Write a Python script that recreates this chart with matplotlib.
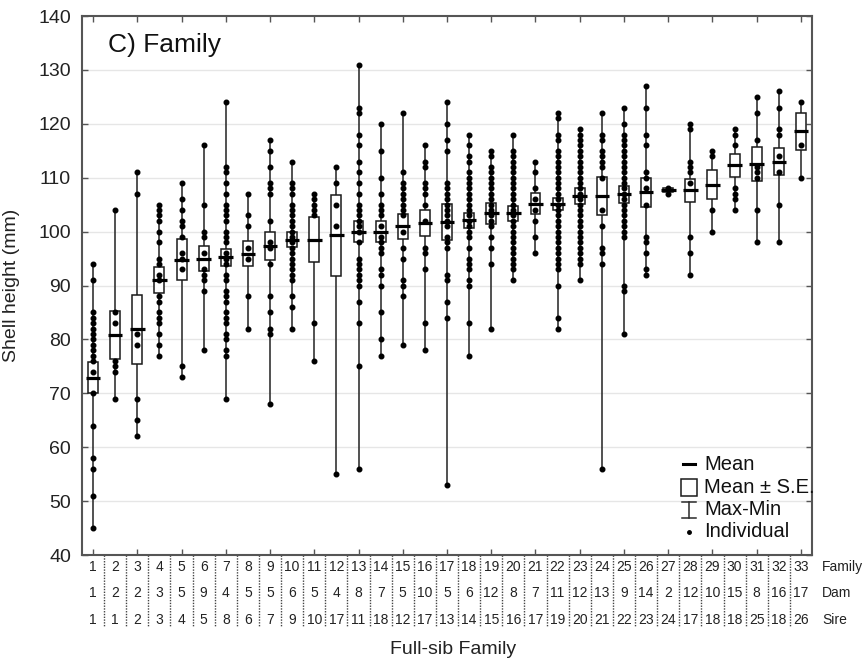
import matplotlib
matplotlib.use("Agg")
import matplotlib.pyplot as plt
import matplotlib.transforms as mtransforms
from matplotlib.patches import Rectangle
from matplotlib.lines import Line2D

plt.rcParams["font.family"] = ["Liberation Sans", "DejaVu Sans"]

# ---- data -------------------------------------------------------------
families = list(range(1, 34))
dams = [1, 2, 2, 3, 5, 9, 4, 5, 5, 6, 5, 4, 8, 7, 5, 10, 5, 6, 12, 8, 7,
        11, 12, 13, 9, 14, 2, 12, 10, 15, 8, 16, 17]
sires = [1, 1, 2, 3, 4, 5, 8, 6, 7, 9, 10, 17, 11, 18, 12, 17, 13, 14, 15,
         16, 17, 19, 20, 21, 22, 23, 24, 17, 18, 18, 25, 18, 26]

means = [72.9, 80.8, 81.9, 91.0, 94.8, 95.0, 95.2, 95.9, 97.3, 98.5, 98.5,
         99.3, 100.0, 100.0, 101.0, 101.6, 101.8, 102.1, 103.4, 103.4, 105.2,
         105.2, 106.6, 106.6, 106.9, 107.3, 107.7, 107.7, 108.7, 112.3, 112.5,
         113.0, 118.6]
std_err = [2.9, 4.4, 6.4, 2.4, 3.8, 2.4, 1.6, 2.3, 2.6, 1.4, 4.2, 7.5, 2.0,
           2.0, 2.3, 2.5, 3.3, 1.4, 1.9, 1.4, 1.9, 1.1, 1.55, 3.6, 1.6, 2.7,
           0.35, 2.15, 2.7, 2.1, 3.2, 2.5, 3.4]

# shell heights (mm) of individuals, one list per full-sib family
shell_heights = [
    [45, 51, 56, 58, 64, 70, 74, 76, 77, 78, 79, 80, 81, 82, 83, 84, 85, 91, 94],
    [69, 74, 75, 76, 83, 85, 104],
    [62, 65, 69, 79, 81, 107, 111],
    [77, 79, 81, 83, 84, 85, 87, 88, 91, 92, 94, 95, 98, 100, 102, 103, 104, 105],
    [73, 75, 93, 95, 96, 99, 101, 102, 104, 106, 109],
    [78, 89, 91, 92, 93, 96, 99, 100, 105, 116],
    [69, 77, 78, 80, 81, 83, 84, 85, 87, 88, 89, 91, 92, 94, 95, 96, 98, 99,
     100, 102, 103, 104, 105, 107, 109, 111, 112, 124],
    [82, 88, 95, 97, 101, 103, 107],
    [68, 81, 82, 85, 88, 94, 97, 98, 102, 107, 108, 109, 112, 115, 117],
    [82, 86, 88, 91, 92, 93, 94, 95, 96, 97, 98, 99, 100, 101, 102, 103, 104,
     105, 107, 108, 109, 113],
    [76, 83, 103, 104, 105, 106, 107],
    [55, 101, 105, 109, 112],
    [56, 75, 83, 87, 90, 91, 92, 93, 94, 95, 98, 100, 101, 102, 103, 104, 105,
     107, 109, 111, 113, 116, 118, 122, 123, 131],
    [77, 80, 85, 90, 92, 93, 96, 97, 98, 99, 101, 103, 104, 105, 107, 110, 115, 120],
    [79, 88, 90, 91, 95, 97, 100, 103, 104, 105, 106, 107, 108, 109, 111, 122],
    [78, 83, 93, 96, 97, 102, 105, 107, 108, 109, 112, 113, 116],
    [53, 84, 87, 91, 92, 97, 98, 99, 101, 102, 103, 104, 105, 106, 107, 108,
     109, 115, 117, 120, 124],
    [77, 83, 90, 91, 93, 94, 95, 97, 99, 100, 101, 102, 103, 104, 105, 106,
     107, 108, 109, 110, 111, 113, 114, 116, 118],
    [82, 94, 97, 99, 101, 102, 103, 104, 105, 106, 107, 108, 109, 110, 111,
     112, 114, 115],
    [91, 93, 94, 95, 96, 97, 98, 99, 100, 101, 102, 103, 104, 105, 106, 107,
     108, 109, 110, 111, 112, 113, 114, 115, 118],
    [96, 99, 102, 104, 106, 108, 111, 113],
    [82, 84, 90, 93, 94, 95, 96, 97, 98, 99, 100, 101, 102, 103, 104, 105,
     106, 107, 108, 109, 110, 111, 112, 113, 114, 115, 117, 118, 121, 122],
    [91, 94, 95, 96, 97, 98, 99, 100, 101, 102, 103, 104, 105, 106, 107, 108,
     109, 110, 111, 112, 113, 114, 115, 116, 117, 118, 119],
    [56, 94, 96, 97, 101, 104, 110, 112, 113, 114, 115, 117, 118, 122],
    [81, 89, 90, 99, 100, 101, 102, 103, 104, 105, 106, 107, 108, 109, 110,
     111, 112, 113, 114, 115, 116, 117, 118, 120, 123],
    [92, 93, 96, 98, 99, 105, 108, 110, 111, 116, 118, 123, 127],
    [107, 108],
    [92, 96, 99, 109, 111, 112, 113, 119, 120],
    [100, 104, 114, 115],
    [104, 106, 107, 108, 116, 118, 119],
    [98, 104, 110, 111, 112, 117, 122, 125],
    [98, 105, 111, 114, 118, 119, 123, 126],
    [110, 116, 124],
]

# ---- figure -------------------------------------------------------------
W, H = 864, 664
fig = plt.figure(figsize=(W / 100, H / 100), dpi=100)
ax_l, ax_r, ax_t, ax_b = 82, 812, 16, 555
ax = fig.add_axes([ax_l / W, 1 - ax_b / H, (ax_r - ax_l) / W, (ax_b - ax_t) / H])

ax.set_xlim(0.5, 33.5)
ax.set_ylim(40, 140)

for y in range(50, 140, 10):
    ax.axhline(y, color="#e6e6e6", lw=1.0, zorder=0)

box_w = 0.45
mean_w = 0.66
for fam, m, s, pts in zip(families, means, std_err, shell_heights):
    ax.vlines(fam, min(pts), max(pts), color="#333333", lw=1.2, zorder=2)
    ax.add_patch(Rectangle((fam - box_w / 2, m - s), box_w, 2 * s,
                           facecolor="white", edgecolor="#1a1a1a", lw=1.1,
                           zorder=3))
    ax.plot([fam] * len(pts), pts, "o", ms=3.3, color="black", mec="black",
            zorder=4)
    ax.hlines(m, fam - mean_w / 2, fam + mean_w / 2, color="black", lw=2.3,
              zorder=5)

# axes frame and ticks
for sp in ax.spines.values():
    sp.set_color("#555555")
    sp.set_linewidth(1.5)
ax.set_yticks(range(40, 141, 10))
ax.tick_params(axis="y", which="both", direction="in", length=4, width=1,
               color="#555555", labelsize=14, left=True, right=True,
               labelcolor="#222222", pad=8)
ax.set_xticks(families[::2])
ax.tick_params(axis="x", direction="in", length=4, width=1, color="#555555",
               top=True, bottom=True, labelbottom=False)

ax.set_ylabel("Shell height (mm)", fontsize=14, color="#222222")
ax.yaxis.set_label_coords(-0.085, 0.5)

ax.text(0.036, 0.946, "C) Family", transform=ax.transAxes, fontsize=19,
        ha="left", va="center", color="#111111")

# pedigree table beneath the axis
trans = mtransforms.blended_transform_factory(ax.transData, ax.transAxes)
row_y = [-0.022, -0.071, -0.121]
for row, values in zip(row_y, [families, dams, sires]):
    for fam, v in zip(families, values):
        ax.text(fam, row, str(v), transform=trans, ha="center", va="center",
                fontsize=10, color="#222222", clip_on=False)
for row, name in zip(row_y, ["Family", "Dam", "Sire"]):
    ax.text(1.0137, row, name, transform=ax.transAxes, ha="left",
            va="center", fontsize=10, color="#222222", clip_on=False)
for fam in families[:-1]:
    ax.add_line(Line2D([fam + 0.5, fam + 0.5], [0, -0.134], transform=trans,
                       color="#444444", lw=1.0, linestyle=(0, (1, 1)),
                       clip_on=False))

ax.text(0.508, -0.176, "Full-sib Family", transform=ax.transAxes,
        ha="center", va="center", fontsize=14, color="#222222")

# legend
lx, tx = 0.8315, 0.852
leg_rows = [0.1688, 0.126, 0.0844, 0.0427]
px = 1.0 / (ax_r - ax_l)
py = 1.0 / (ax_b - ax_t)
ax.add_line(Line2D([lx - 6 * px, lx + 6 * px], [leg_rows[0]] * 2,
                   transform=ax.transAxes, color="black", lw=2.2))
ax.add_patch(Rectangle((lx - 8 * px, leg_rows[1] - 8.5 * py), 16 * px,
                       17 * py, transform=ax.transAxes, facecolor="white",
                       edgecolor="#1a1a1a", lw=1.1))
ax.add_line(Line2D([lx, lx], [leg_rows[2] - 8 * py, leg_rows[2] + 8 * py],
                   transform=ax.transAxes, color="#2a2a2a", lw=1.1))
for dy in (-8, 8):
    ax.add_line(Line2D([lx - 7 * px, lx + 7 * px],
                       [leg_rows[2] + dy * py] * 2,
                       transform=ax.transAxes, color="#2a2a2a", lw=1.1))
ax.add_line(Line2D([lx], [leg_rows[3]], transform=ax.transAxes, marker="o",
                   ms=2.5, color="black", linestyle="none"))
for row, label in zip(leg_rows, ["Mean", "Mean ± S.E.", "Max-Min",
                                 "Individual"]):
    ax.text(tx, row, label, transform=ax.transAxes, ha="left", va="center",
            fontsize=14.5, color="#111111")

fig.savefig("out.png", dpi=100)
